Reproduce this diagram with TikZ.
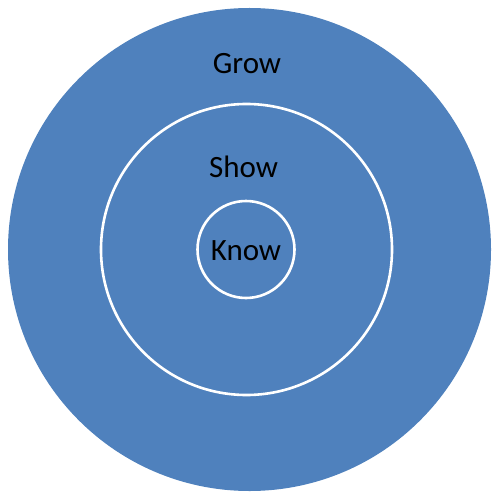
\documentclass[tikz,border=0pt]{standalone}
\usepackage{fontspec}
\setmainfont{Carlito}
\definecolor{fillblue}{HTML}{4F81BD}
\tikzset{
  ring/.style={draw=white, line width=2.6pt},
  lbl/.style={anchor=base, font=\fontsize{31}{36}\selectfont, text=black, inner sep=0pt}
}
\begin{document}
\begin{tikzpicture}[x=1pt,y=-1pt]
\useasboundingbox (0,0) rectangle (500,500);
\fill[fillblue] (249.5,249.5) circle (241.5);
\node[ring, circle, minimum size=291pt, inner sep=0pt] (show) at (246.5,249.5) {};
\node[ring, circle, minimum size=97pt, inner sep=0pt] (know) at (246,249.5) {};
\node[lbl] (tgrow) at (247,73.3) {Grow};
\node[lbl] (tshow) at (243.5,177.7) {Show};
\node[lbl] (tknow) at (246,260) {Know};
\end{tikzpicture}
\end{document}
